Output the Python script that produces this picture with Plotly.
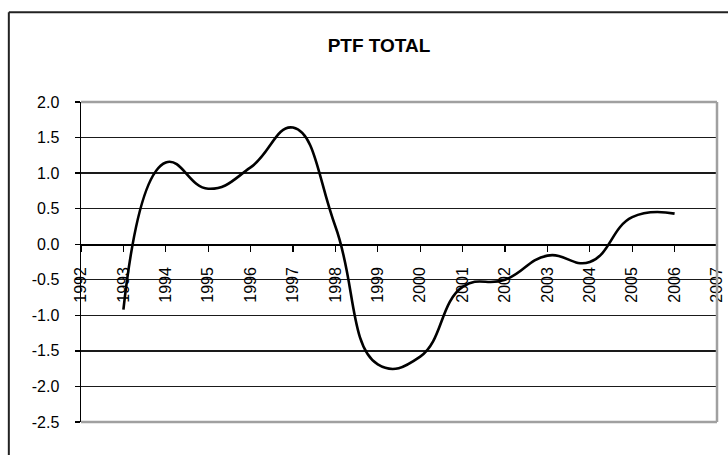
import plotly.graph_objects as go

years = [1993, 1994, 1995, 1996, 1997, 1998, 1999, 2000, 2001, 2002, 2003, 2004, 2005, 2006]
ptf_total = [-0.92, 1.15, 0.78, 1.08, 1.64, 0.25, -1.69, -1.58, -0.60, -0.50, -0.16, -0.25, 0.38, 0.43]

x_ticks = list(range(1992, 2008))
x_tick_labels = [str(v) for v in x_ticks]
y_ticks = [2.0, 1.5, 1.0, 0.5, 0.0, -0.5, -1.0, -1.5, -2.0, -2.5]
y_tick_labels = [f"{v:.1f}" for v in y_ticks]

W, H = 728, 455
L, R, T, B = 80.7, 717.0, 101.7, 421.7

fig = go.Figure()
fig.add_trace(go.Scatter(
    x=years, y=ptf_total, mode="lines",
    line=dict(color="black", width=2.6, shape="spline", smoothing=1.3),
    hoverinfo="skip", showlegend=False,
))

font = "Liberation Sans, Arial, sans-serif"
y0_frac = (0 - (-2.5)) / 4.5

fig.update_layout(
    width=W, height=H,
    margin=dict(l=L, r=W - R, t=T, b=H - B, pad=0),
    paper_bgcolor="white", plot_bgcolor="white",
    font=dict(family=font, size=16, color="black"),
    title=dict(text="<b>PTF TOTAL</b>", x=379 / W, xanchor="center",
               y=1 - 45 / H, yanchor="middle",
               font=dict(family=font, size=19, color="black")),
    xaxis=dict(range=[1992, 2007], tickvals=x_ticks, ticktext=x_tick_labels,
               tickangle=-90, anchor="free", position=y0_frac,
               showline=True, linecolor="black", linewidth=1.5,
               ticks="outside", ticklen=6, tickwidth=1.3, tickcolor="black",
               ticklabelstandoff=9,
               showgrid=False, zeroline=False, automargin=False,
               tickfont=dict(family=font, size=16, color="black")),
    yaxis=dict(range=[-2.5, 2.0], tickvals=y_ticks, ticktext=y_tick_labels,
               showline=True, linecolor="black", linewidth=1.5,
               ticks="outside", ticklen=5, tickwidth=1.3, tickcolor="black",
               ticklabelstandoff=12, automargin=False,
               showgrid=True, gridcolor="#1a1a1a", gridwidth=1.3,
               zeroline=False,
               tickfont=dict(family=font, size=16, color="black")),
)

# plot-area frame (grey top, right, bottom)
grey = "#a0a0a0"
for (x0, y0, x1, y1) in [(0, 1, 1, 1), (1, 0, 1, 1), (0, 0, 1, 0)]:
    fig.add_shape(type="line", xref="paper", yref="paper",
                  x0=x0, y0=y0, x1=x1, y1=y1,
                  line=dict(color=grey, width=2.5), layer="above")

# chart-area border (top and left visible)
pw, ph = R - L, B - T
bx = (8.5 - L) / pw
by = (B - 12) / ph
fig.add_shape(type="line", xref="paper", yref="paper",
              x0=bx, y0=by, x1=(W + 10 - L) / pw, y1=by,
              line=dict(color="#222222", width=2), layer="above")
fig.add_shape(type="line", xref="paper", yref="paper",
              x0=bx, y0=by, x1=bx, y1=(B - (H + 10)) / ph,
              line=dict(color="#222222", width=2), layer="above")

fig.write_html(
    "out.html",
    config={"displayModeBar": False, "staticPlot": True},
    post_script="document.body.style.margin='0';document.body.style.overflow='hidden';",
)
